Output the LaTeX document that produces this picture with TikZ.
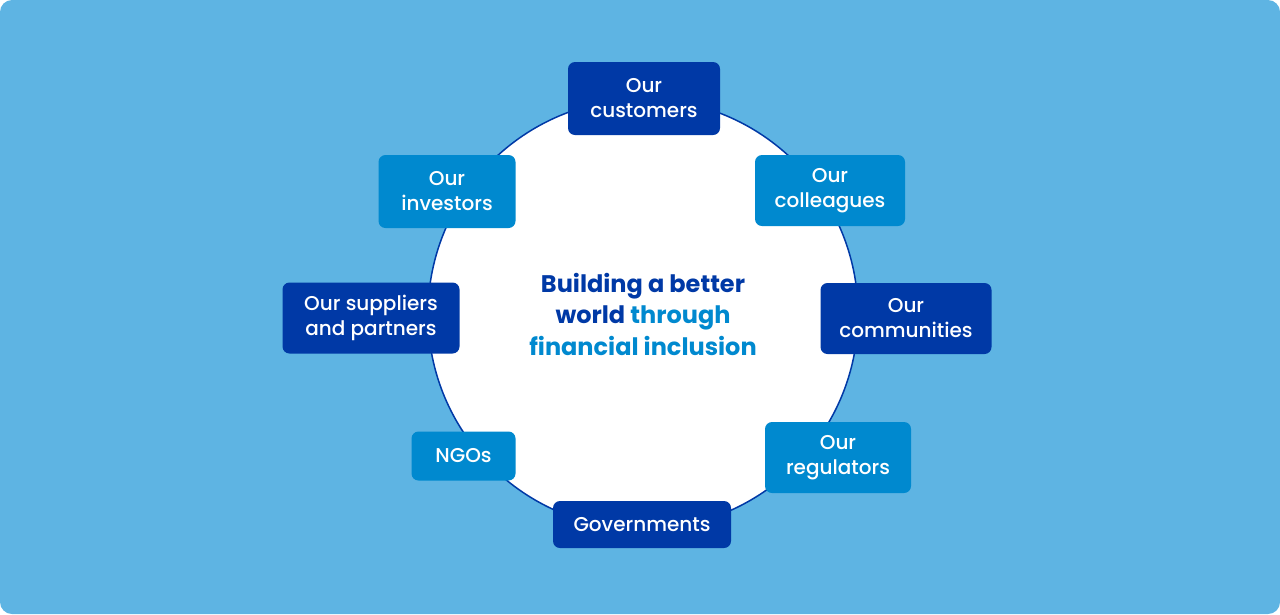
\documentclass[tikz,border=0pt]{standalone}
\usepackage{fontspec}
\setmainfont{Poppins}
\newfontfamily\boxfont{Poppins Medium}
\definecolor{skyblue}{HTML}{5EB4E3}
\definecolor{deepblue}{HTML}{0039A6}
\definecolor{midblue}{HTML}{0089CF}
\begin{document}
\begin{tikzpicture}[x=1pt, y=-1pt,
	darkbox/.style={fill=deepblue, rounded corners=7pt, text=white, align=center, inner sep=0pt,
		font=\boxfont\fontsize{20}{25}\selectfont},
	lightbox/.style={darkbox, fill=midblue}]
	\useasboundingbox (0,0) rectangle (1280,614);
	\fill[skyblue, rounded corners=12pt] (0,0) rectangle (1280,614);

	\node[circle, draw=deepblue, line width=1.5pt, fill=white, minimum size=430pt, inner sep=0pt] (ring) at (643,314) {};

	\node[font=\bfseries\fontsize{24}{31.5}\selectfont, text=deepblue, align=center] (title) at (643,314)
	{Building a better\\world \textcolor{midblue}{through}\\\textcolor{midblue}{financial inclusion}};

	\node[darkbox, minimum width=152pt, minimum height=73pt] (cust) at (644,98.5) {Our\\customers};
	\node[lightbox, minimum width=150pt, minimum height=71pt] (coll) at (830,190.5) {Our\\colleagues};
	\node[darkbox, minimum width=171pt, minimum height=71pt] (comm) at (906,318.5) {Our\\communities};
	\node[lightbox, minimum width=146pt, minimum height=71pt] (regu) at (838,457.5) {Our\\regulators};
	\node[darkbox, minimum width=178pt, minimum height=47pt] (gov) at (642,524.5) {Governments};
	\node[lightbox, minimum width=104pt, minimum height=49pt] (ngo) at (463.5,456) {NGOs};
	\node[darkbox, minimum width=177pt, minimum height=71pt] (supp) at (371,318) {Our suppliers\\and partners};
	\node[lightbox, minimum width=137pt, minimum height=73pt] (inv) at (447,191.5) {Our\\investors};
\end{tikzpicture}
\end{document}
